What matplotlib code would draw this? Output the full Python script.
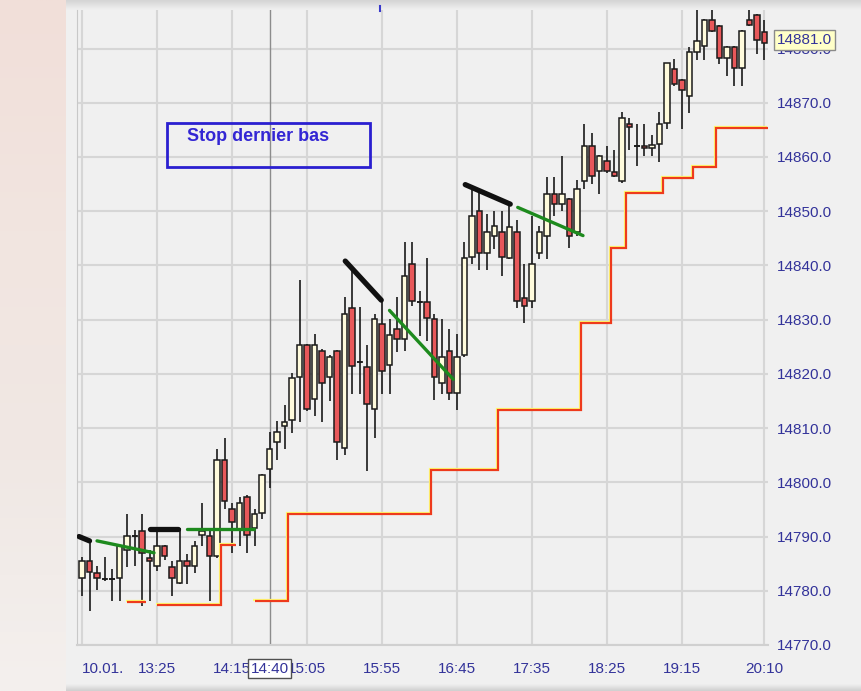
import numpy as np
import matplotlib
matplotlib.use("Agg")
import matplotlib.pyplot as plt
import matplotlib.patheffects as pe
from matplotlib.patches import Rectangle
from matplotlib.colors import LinearSegmentedColormap

plt.rcParams['font.family'] = ['Liberation Sans', 'DejaVu Sans']

# 5-minute candles, 12:35 -> 20:10
opens = [14782.3, 14785.4, 14783.2, 14782.1, 14782.1, 14782.3, 14787.5, 14790.1, 14791.1, 14786.1,
         14784.6, 14788.3, 14784.3, 14781.5, 14785.4, 14784.6, 14790.3, 14790.1, 14786.4, 14804.2,
         14795.1, 14791.3, 14797.3, 14791.5, 14794.4, 14802.4, 14807.4, 14810.4, 14811.4, 14819.5,
         14825.3, 14815.4, 14824.2, 14819.5, 14824.2, 14806.3, 14832.2, 14822.2, 14821.3, 14813.6,
         14829.2, 14821.6, 14828.2, 14826.5, 14840.3, 14833.2, 14833.3, 14830.1, 14818.4, 14824.2,
         14816.5, 14823.4, 14841.6, 14850.1, 14842.3, 14845.5, 14846.1, 14841.4, 14846.1, 14834.0,
         14833.5, 14842.3, 14845.5, 14853.2, 14851.4, 14852.3, 14846.1, 14855.5, 14862.1, 14857.5,
         14859.2, 14857.3, 14855.5, 14866.1, 14862.1, 14862.1, 14861.6, 14862.4, 14866.3, 14876.2,
         14874.1, 14871.3, 14879.3, 14880.5, 14885.2, 14884.2, 14878.2, 14880.3, 14876.4, 14885.2,
         14886.2, 14883.0]
highs = [14786.3, 14789.2, 14784.6, 14786.2, 14784.1, 14788.4, 14794.1, 14791.2, 14794.1, 14787.6,
         14791.5, 14788.4, 14785.5, 14791.5, 14786.7, 14789.2, 14796.2, 14791.3, 14806.1, 14808.2,
         14796.2, 14797.3, 14797.6, 14795.1, 14801.5, 14809.3, 14811.3, 14814.2, 14820.2, 14837.4,
         14825.5, 14827.3, 14824.5, 14823.4, 14824.4, 14834.2, 14839.2, 14832.3, 14825.4, 14831.1,
         14833.7, 14830.2, 14834.1, 14844.3, 14844.3, 14835.2, 14841.4, 14831.1, 14830.1, 14828.2,
         14827.3, 14844.3, 14854.6, 14853.7, 14849.4, 14850.1, 14850.1, 14851.5, 14848.3, 14840.2,
         14849.2, 14847.2, 14856.3, 14856.3, 14860.2, 14852.5, 14855.8, 14866.1, 14864.4, 14860.4,
         14862.1, 14861.3, 14868.2, 14867.2, 14866.1, 14866.1, 14864.0, 14868.2, 14877.4, 14878.0,
         14874.3, 14880.3, 14888.0, 14885.4, 14888.0, 14884.4, 14880.5, 14880.5, 14883.4, 14888.0,
         14886.3, 14885.3]
lows = [14779.0, 14776.3, 14780.1, 14781.8, 14778.1, 14778.1, 14784.3, 14784.6, 14777.2, 14778.1,
        14783.6, 14785.6, 14779.0, 14781.2, 14781.2, 14783.2, 14788.3, 14778.1, 14786.1, 14795.1,
        14787.0, 14788.3, 14787.0, 14788.3, 14793.2, 14799.0, 14804.1, 14806.1, 14809.1, 14811.1,
        14813.1, 14812.2, 14811.1, 14815.0, 14804.2, 14805.1, 14816.2, 14816.2, 14802.1, 14808.2,
        14816.2, 14816.2, 14824.1, 14824.2, 14832.5, 14826.9, 14826.0, 14815.2, 14816.2, 14815.2,
        14813.3, 14823.1, 14840.2, 14839.1, 14839.1, 14843.0, 14838.0, 14841.1, 14832.2, 14829.3,
        14832.2, 14841.2, 14841.2, 14849.2, 14850.0, 14843.2, 14845.4, 14854.0, 14855.1, 14853.2,
        14857.0, 14856.3, 14855.2, 14861.3, 14858.3, 14860.2, 14860.2, 14859.1, 14865.2, 14873.1,
        14865.2, 14868.1, 14877.9, 14877.9, 14883.1, 14877.2, 14875.0, 14873.1, 14873.1, 14884.1,
        14879.0, 14877.9]
closes = [14785.4, 14783.5, 14782.3, 14782.1, 14782.1, 14788.3, 14790.1, 14790.1, 14787.0, 14785.5,
          14788.3, 14786.4, 14782.3, 14785.4, 14784.6, 14788.3, 14791.1, 14786.4, 14804.2, 14796.5,
          14792.6, 14796.2, 14790.3, 14794.1, 14801.3, 14806.1, 14809.3, 14811.2, 14819.3, 14825.3,
          14813.6, 14825.3, 14818.4, 14823.2, 14807.4, 14831.1, 14821.5, 14822.2, 14814.4, 14830.1,
          14820.5, 14827.1, 14826.5, 14838.0, 14833.5, 14833.2, 14830.3, 14819.5, 14823.1, 14816.5,
          14823.1, 14841.3, 14849.2, 14842.3, 14846.1, 14847.2, 14841.5, 14847.1, 14833.5, 14832.5,
          14840.2, 14846.1, 14853.2, 14851.4, 14853.2, 14845.5, 14854.1, 14862.1, 14856.5, 14860.1,
          14857.5, 14856.5, 14867.2, 14865.5, 14862.1, 14861.6, 14862.2, 14866.0, 14877.3, 14873.5,
          14872.4, 14879.3, 14881.3, 14885.2, 14883.3, 14878.2, 14880.3, 14876.4, 14883.2, 14884.3,
          14881.5, 14881.0]

tick_pos = [0, 10, 20, 30, 40, 50, 60, 70, 80, 91]
tick_labels = ['10.01.', '13:25', '14:15', '15:05', '15:55', '16:45', '17:35', '18:25', '19:15', '20:10']
cursor_pos = 25
cursor_label = '14:40'
last_price = 14881.0

# trailing stop: (first candle, last candle, level)
stop_runs = [(6, 8, 14778.0), (10, 18, 14777.3), (19, 20, 14788.4),
             (23, 27, 14778.1), (28, 46, 14794.2), (47, 55, 14802.2), (56, 66, 14813.3),
             (67, 70, 14829.4), (71, 72, 14843.2), (73, 77, 14853.4), (78, 81, 14856.1),
             (82, 84, 14858.1), (85, 91, 14865.3)]
stop_breaks = [(6, 8), (10, 20), (23, 91)]

# last highs (black) and last lows (green)
black_lines = [(-0.4, 14790.0, 1.0, 14789.2), (9.1, 14791.3, 12.8, 14791.3),
               (35.1, 14840.8, 39.9, 14833.6), (51.1, 14854.9, 57.1, 14851.3)]
green_lines = [(2.0, 14789.2, 9.6, 14787.0), (14.0, 14791.3, 22.9, 14791.3),
               (41.0, 14831.7, 49.5, 14819.0), (58.1, 14850.7, 66.8, 14845.5)]

W, H = 861, 691
fig = plt.figure(figsize=(W / 100, H / 100), dpi=100)
fig.patch.set_facecolor('#f0f0f0')

# faded background strip on the left
bg = fig.add_axes([0, 0, 66 / W, 1])
grad = np.linspace(0, 1, 256).reshape(-1, 1)
pink = LinearSegmentedColormap.from_list('pink', ['#f1dfd9', '#f2e5e0', '#f0e8e4', '#f4f0ee'])
bg.imshow(grad, aspect='auto', cmap=pink, extent=[0, 1, 0, 1], origin='upper')
bg.axis('off')

# panel shadows
sh = fig.add_axes([66 / W, 1 - 10 / H, 1 - 66 / W, 10 / H])
sh.imshow(np.linspace(0, 1, 50).reshape(-1, 1), aspect='auto',
          cmap=LinearSegmentedColormap.from_list('s', ['#d4d4d4', '#f0f0f0']), origin='upper')
sh.axis('off')
sb = fig.add_axes([66 / W, 0, 1 - 66 / W, 7 / H])
sb.imshow(np.linspace(0, 1, 50).reshape(-1, 1), aspect='auto',
          cmap=LinearSegmentedColormap.from_list('s2', ['#f0f0f0', '#cfcfcf']), origin='upper')
sb.axis('off')

ax = fig.add_axes([77 / W, (H - 645) / H, (768 - 77) / W, (645 - 10) / H])
ax.set_facecolor('#f0f0f0')
ax.set_xlim(-0.67, 91.47)
ax.set_ylim(14770.1, 14887.1)

ax.set_xticks(tick_pos)
ax.set_xticklabels(tick_labels)
ax.set_yticks(np.arange(14770, 14881, 10))
ax.yaxis.set_major_formatter(matplotlib.ticker.FormatStrFormatter('%.1f'))
ax.yaxis.tick_right()
ax.tick_params(axis='both', length=0, labelsize=11, labelcolor='#33339a')
ax.tick_params(axis='y', pad=6.5)
ax.tick_params(axis='x', pad=12)
ax.get_xticklabels()[0].set_horizontalalignment('left')
ax.grid(True, color='#d6d6d6', linewidth=1.5)
ax.set_axisbelow(True)
for s in ['top', 'right']:
    ax.spines[s].set_visible(False)
ax.spines['left'].set_color('#c8c8c8')
ax.spines['bottom'].set_color('#d0d0d0')
ax.spines['bottom'].set_linewidth(1.5)

# cursor line
ax.axvline(cursor_pos, color='#8c8c8c', linewidth=1, zorder=1)

x = np.arange(len(opens))
o = np.array(opens); c = np.array(closes)
up = c >= o
ax.vlines(x, lows, highs, color='#1a1a1a', linewidth=1.2, zorder=3)
ax.bar(x, np.abs(c - o), bottom=np.minimum(o, c), width=0.72,
       color=np.where(up, '#fffbdc', '#e8585a'), edgecolor='#1a1a1a', linewidth=1.1, zorder=4)
flat = np.isclose(o, c)
ax.hlines(o[flat], x[flat] - 0.4, x[flat] + 0.4, color='#1a1a1a', linewidth=1.2, zorder=4)

# trailing stop as stairs
stop = np.full(len(opens), np.nan)
for a, b, lvl in stop_runs:
    stop[a:b + 1] = lvl
glow = [pe.SimpleLineShadow(offset=(-0.8, 0.8), shadow_color='#ffff70', alpha=1.0, rho=1.0), pe.Normal()]
for a, b in stop_breaks:
    vals = stop[a:b + 1]
    edges = np.concatenate([[a], np.arange(a, b + 1) + 0.5])
    ax.stairs(vals, edges, baseline=None, color='#ee3a1c', linewidth=1.6, zorder=5, path_effects=glow)

for x0, y0, x1, y1 in black_lines:
    ax.plot([x0, x1], [y0, y1], color='#111111', linewidth=3.8, solid_capstyle='round', zorder=6)
for x0, y0, x1, y1 in green_lines:
    ax.plot([x0, x1], [y0, y1], color='#1d8a1d', linewidth=2.4, solid_capstyle='round', zorder=6)

# annotation box
ax.add_patch(Rectangle((11.33, 14858.2), 27.1, 8.1, fill=False, edgecolor='#2a1fd0', linewidth=2, zorder=7))
ax.text(14.0, 14863.7, 'Stop dernier bas', color='#3326d4', fontsize=13, fontweight='bold',
        va='center', ha='left', zorder=7)

# cursor time label
ax.annotate(cursor_label, xy=(cursor_pos, 0), xycoords=('data', 'axes fraction'),
            xytext=(0, -12), textcoords='offset points', ha='center', va='top',
            fontsize=11, color='#33339a', zorder=10, annotation_clip=False,
            bbox=dict(boxstyle='square,pad=0.15', facecolor='white', edgecolor='#505050', linewidth=1))

# last price label
ax.annotate(f'{last_price:.1f}', xy=(1, last_price), xycoords=('axes fraction', 'data'),
            xytext=(6.5, 2), textcoords='offset points', ha='left', va='center',
            fontsize=11, color='#33339a', annotation_clip=False, zorder=10,
            bbox=dict(boxstyle='square,pad=0.2', facecolor='#ffffc8', edgecolor='#8a8a8a', linewidth=1))

# small mark above the panel
fig.add_artist(plt.Line2D([380 / W, 380 / W], [1 - 6 / H, 1 - 11 / H], color='#3a3acc', linewidth=1.5))

fig.savefig('out.png', dpi=100, facecolor=fig.get_facecolor())
